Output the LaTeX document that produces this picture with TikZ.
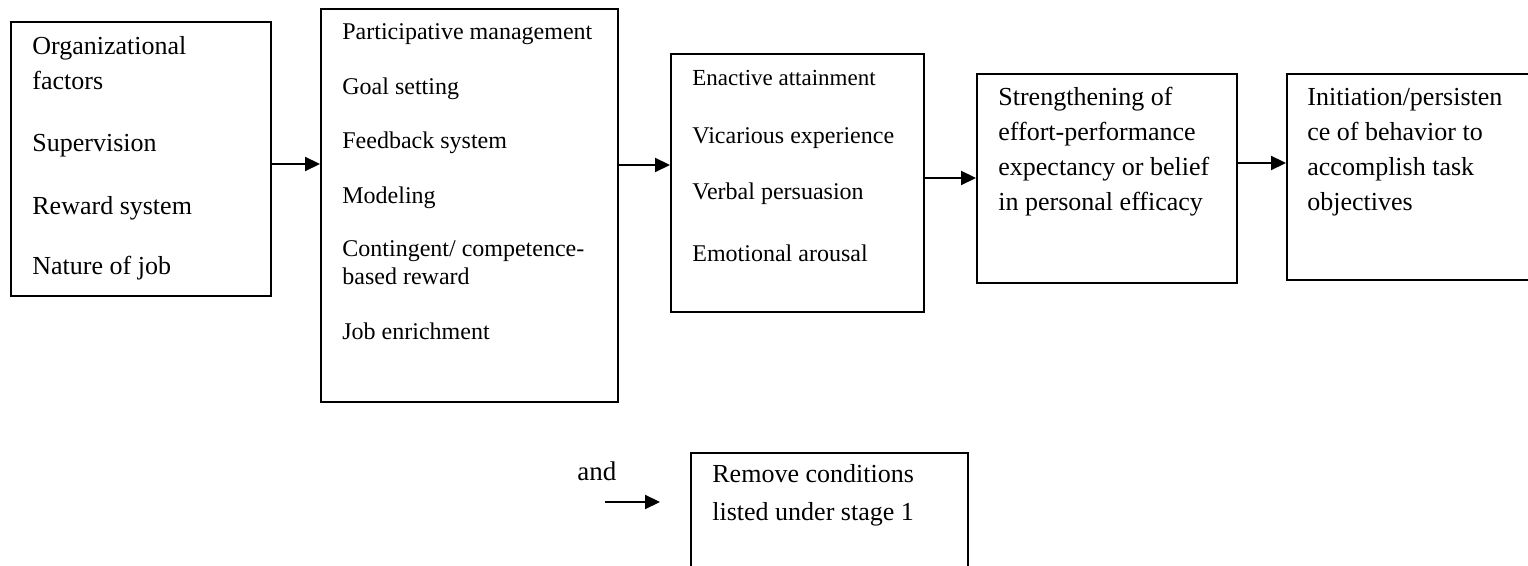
\documentclass[tikz,border=0pt]{standalone}
\usepackage{fontspec}
\setmainfont{Liberation Serif}
\usetikzlibrary{arrows.meta}
\tikzset{
  box/.style={draw, line width=0.9pt, anchor=north west, inner sep=0pt},
  arr/.style={line width=1.1pt, -{Triangle[length=7.5pt,width=7pt]}},
  tA/.style={anchor=base west, inner sep=0pt, font=\fontsize{13}{16}\selectfont},
  tB/.style={anchor=base west, inner sep=0pt, font=\fontsize{12}{14}\selectfont},
  tC/.style={anchor=base west, inner sep=0pt, font=\fontsize{11.5}{14}\selectfont},
}
\begin{document}
\begin{tikzpicture}[x=0.5pt, y=-0.5pt]
\useasboundingbox (0,0) rectangle (1528,566);
\clip (0,0) rectangle (1528,566);
% boxes
\node[box, minimum width=130pt, minimum height=137pt] (b1) at (10,21) {};
\node[box, minimum width=148.5pt, minimum height=196.5pt] (b2) at (320,8) {};
\node[box, minimum width=126.5pt, minimum height=129pt] (b3) at (670,53) {};
\node[box, minimum width=130pt, minimum height=104.5pt] (b4) at (976,73) {};
\node[box, minimum width=130pt, minimum height=103pt] (b5) at (1286,73) {};
\node[box, minimum width=138.5pt, minimum height=70pt] (b6) at (690,452) {};
% texts
\foreach \yy/\t [count=\i] in {55/{Organizational}, 90/{factors}, 152/{Supervision}, 215/{Reward system}, 275/{Nature of job}}
  \node[tA] (b1-\i) at (32,\yy) {\t};
\foreach \yy/\t [count=\i] in {40/{Participative management}, 95/{Goal setting}, 149/{Feedback system}, 204/{Modeling}, 257/{Contingent/ competence-}, 285/{based reward}, 340/{Job enrichment}}
  \node[tB] (b2-\i) at (342,\yy) {\t};
\node[tC] (b3-1) at (692,86) {Enactive attainment};
\foreach \yy/\t [count=\i from 2] in {144/{Vicarious experience}, 200/{Verbal persuasion}, 262/{Emotional arousal}}
  \node[tB] (b3-\i) at (692,\yy) {\t};
\foreach \yy/\t [count=\i] in {106/{Strengthening of}, 141/{effort-performance}, 176/{expectancy or belief}, 211/{in personal efficacy}}
  \node[tA] (b4-\i) at (998,\yy) {\t};
\foreach \yy/\t [count=\i] in {106/{Initiation/persisten}, 141/{ce of behavior to}, 176/{accomplish task}, 211/{objectives}}
  \node[tA] (b5-\i) at (1307,\yy) {\t};
\foreach \yy/\t [count=\i] in {483/{Remove conditions}, 521/{listed under stage 1}}
  \node[tA] (b6-\i) at (712,\yy) {\t};
\node[anchor=base west, inner sep=0pt, font=\fontsize{13.5}{16}\selectfont] (andlbl) at (577,481) {and};
% arrow heights
\coordinate (y1) at (0,164);
\coordinate (y2) at (0,165);
\coordinate (y3) at (0,178);
\coordinate (y4) at (0,163);
\draw[arr] (b1.east |- y1) -- (b2.west |- y1);
\draw[arr] (b2.east |- y2) -- (b3.west |- y2);
\draw[arr] (b3.east |- y3) -- (b4.west |- y3);
\draw[arr] (b4.east |- y4) -- (b5.west |- y4);
\coordinate (a5s) at (605,502);
\coordinate (a5e) at (660,502);
\draw[arr] (a5s) -- (a5e);
\end{tikzpicture}
\end{document}
